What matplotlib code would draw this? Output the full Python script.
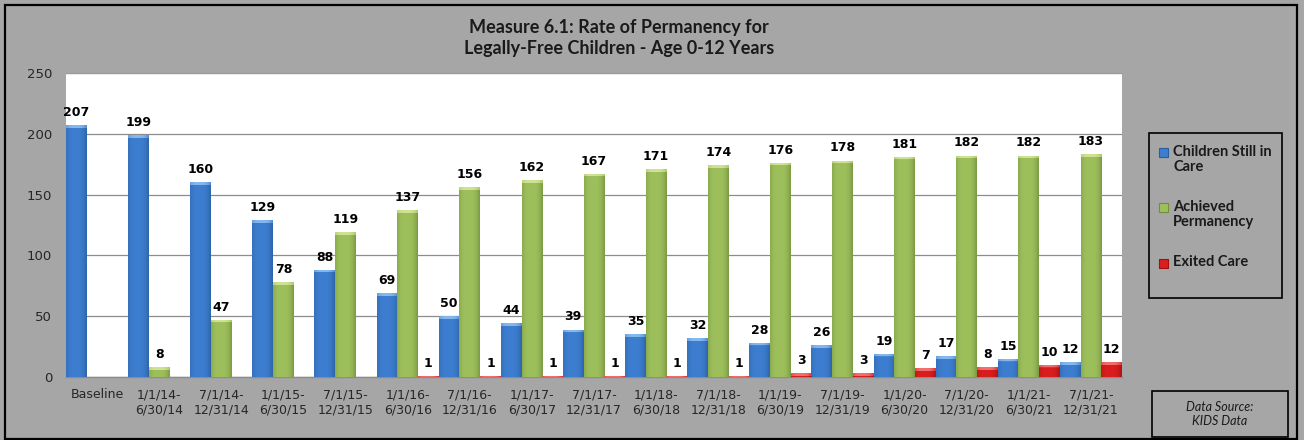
import numpy as np
import matplotlib
matplotlib.use("Agg")
import matplotlib.pyplot as plt
from matplotlib.patches import Rectangle
import matplotlib.colors as mcolors

# Measure 6.1 data, by six-month period
periods = ["Baseline", "1/1/14-\n6/30/14", "7/1/14-\n12/31/14", "1/1/15-\n6/30/15",
           "7/1/15-\n12/31/15", "1/1/16-\n6/30/16", "7/1/16-\n12/31/16", "1/1/17-\n6/30/17",
           "7/1/17-\n12/31/17", "1/1/18-\n6/30/18", "7/1/18-\n12/31/18", "1/1/19-\n6/30/19",
           "7/1/19-\n12/31/19", "1/1/20-\n6/30/20", "7/1/20-\n12/31/20", "1/1/21-\n6/30/21",
           "7/1/21-\n12/31/21"]
still_in_care = [207, 199, 160, 129, 88, 69, 50, 44, 39, 35, 32, 28, 26, 19, 17, 15, 12]
achieved_perm = [np.nan, 8, 47, 78, 119, 137, 156, 162, 167, 171, 174, 176, 178, 181, 182, 182, 183]
exited_care = [np.nan, np.nan, np.nan, np.nan, np.nan, 1, 1, 1, 1, 1, 1, 3, 3, 7, 8, 10, 12]

series_names = ["Children Still in\nCare", "Achieved\nPermanency", "Exited Care"]
yticks = [0, 50, 100, 150, 200, 250]

# base, light (top bevel), dark (edges)
palette = [("#3D7ED0", "#86B8EE", "#2B5E9E"),
           ("#9EC05C", "#CFE394", "#738F3E"),
           ("#DA1E1E", "#F07070", "#A01010")]

W, H = 1304, 440
fig = plt.figure(figsize=(W / 100, H / 100), dpi=100, facecolor="#A6A6A6")

# plot area in pixels: left 66, right 1122, top 73, bottom 377
ax = fig.add_axes([66 / W, 1 - 377 / H, (1122 - 66) / W, (377 - 73) / H])
ax.set_facecolor("white")

YMAX = 250
px_per_unit = (377 - 73) / YMAX


def shade_bar(patch, base, light, dark):
    x0, y0 = patch.get_x(), patch.get_y()
    w, h = patch.get_width(), patch.get_height()
    if not np.isfinite(h) or h <= 0:
        return
    base, light, dark = (np.array(mcolors.to_rgb(c)) for c in (base, light, dark))
    n_rows = max(int(round(h * px_per_unit)), 1)
    t = np.linspace(0, 1, 40)
    k = (0.8 * np.clip(np.abs(t - 0.45) / 0.55, 0, 1) ** 3)[:, None]
    row = base * (1 - k) + dark * k
    img = np.tile(row, (n_rows, 1, 1))
    cap = min(3, n_rows)
    cap_row = light * (1 - k) + base * k
    img[:cap] = cap_row
    im = ax.imshow(img, extent=(x0, x0 + w, y0, y0 + h), origin="upper",
                   aspect="auto", interpolation="bilinear", zorder=3)
    im.set_clip_path(patch)


x = np.arange(len(periods))
bw = 1 / 3
for j, (vals, (base, light, dark)) in enumerate(zip([still_in_care, achieved_perm, exited_care], palette)):
    bars = ax.bar(x + (j - 1) * bw, vals, width=bw, color=base, edgecolor="none", zorder=2)
    for patch in bars.patches:
        shade_bar(patch, base, light, dark)
    for xi, v in zip(x + (j - 1) * bw, vals):
        if np.isfinite(v):
            ax.annotate(f"{int(v)}", (xi, v), xytext=(0, 4.5), textcoords="offset points",
                        ha="center", va="bottom", fontsize=9, fontweight="bold",
                        family="DejaVu Sans", color="black", zorder=5)

ax.set_xlim(-0.5, len(periods) - 0.5)
ax.set_ylim(0, YMAX)
ax.set_yticks(yticks)
ax.set_yticklabels([str(t) for t in yticks], fontsize=9.5, color="#262626", family="DejaVu Sans")
ax.set_xticks(x)
ax.set_xticklabels(periods, fontsize=9, color="#262626", family="DejaVu Sans")
ax.tick_params(axis="y", length=0, pad=10)
ax.tick_params(axis="x", length=0, pad=8)
ax.yaxis.grid(True, color="#8C8C8C", lw=0.9)
ax.set_axisbelow(True)
for s in ["left", "right"]:
    ax.spines[s].set_visible(False)
ax.spines["top"].set_color("#9A9A9A")
ax.spines["top"].set_linewidth(0.8)
ax.spines["bottom"].set_color("#8C8C8C")
ax.spines["bottom"].set_linewidth(1.0)

# title
fig.text(619 / W, 1 - 38 / H, "Measure 6.1: Rate of Permanency for\nLegally-Free Children - Age 0-12 Years",
         ha="center", va="center", fontsize=13, fontweight="bold", family="Lato",
         color="#1A1A1A", linespacing=1.25)


def fig_rect(x0, y0, x1, y1, **kw):
    fig.patches.append(Rectangle((x0 / W, 1 - y1 / H), (x1 - x0) / W, (y1 - y0) / H,
                                 transform=fig.transFigure, figure=fig, **kw))


# outer border
fig_rect(5, 5, 1297, 439, fill=False, edgecolor="black", lw=1.6)

# legend box
fig_rect(1149, 133, 1282, 298, fill=False, edgecolor="black", lw=1.2)
entry_y = [153, 208, 263]
for name, (base, light, dark), ey in zip(series_names, palette, entry_y):
    fig_rect(1159, ey - 4.5, 1168, ey + 4.5, facecolor=base, edgecolor=dark, lw=0.8)
    fig.text(1173 / W, 1 - (ey - 8) / H, name, ha="left", va="top", fontsize=10.5,
             fontweight="bold", family="Lato", color="#1A1A1A", linespacing=1.1)

# data source box
fig_rect(1152, 391, 1288, 437, fill=False, edgecolor="black", lw=1.2)
fig.text(1220 / W, 1 - 414 / H, "Data Source:\nKIDS Data", ha="center", va="center",
         fontsize=9, style="italic", family="Lato", color="#1A1A1A", linespacing=1.2)

fig.savefig("out.png", dpi=100, facecolor=fig.get_facecolor())
